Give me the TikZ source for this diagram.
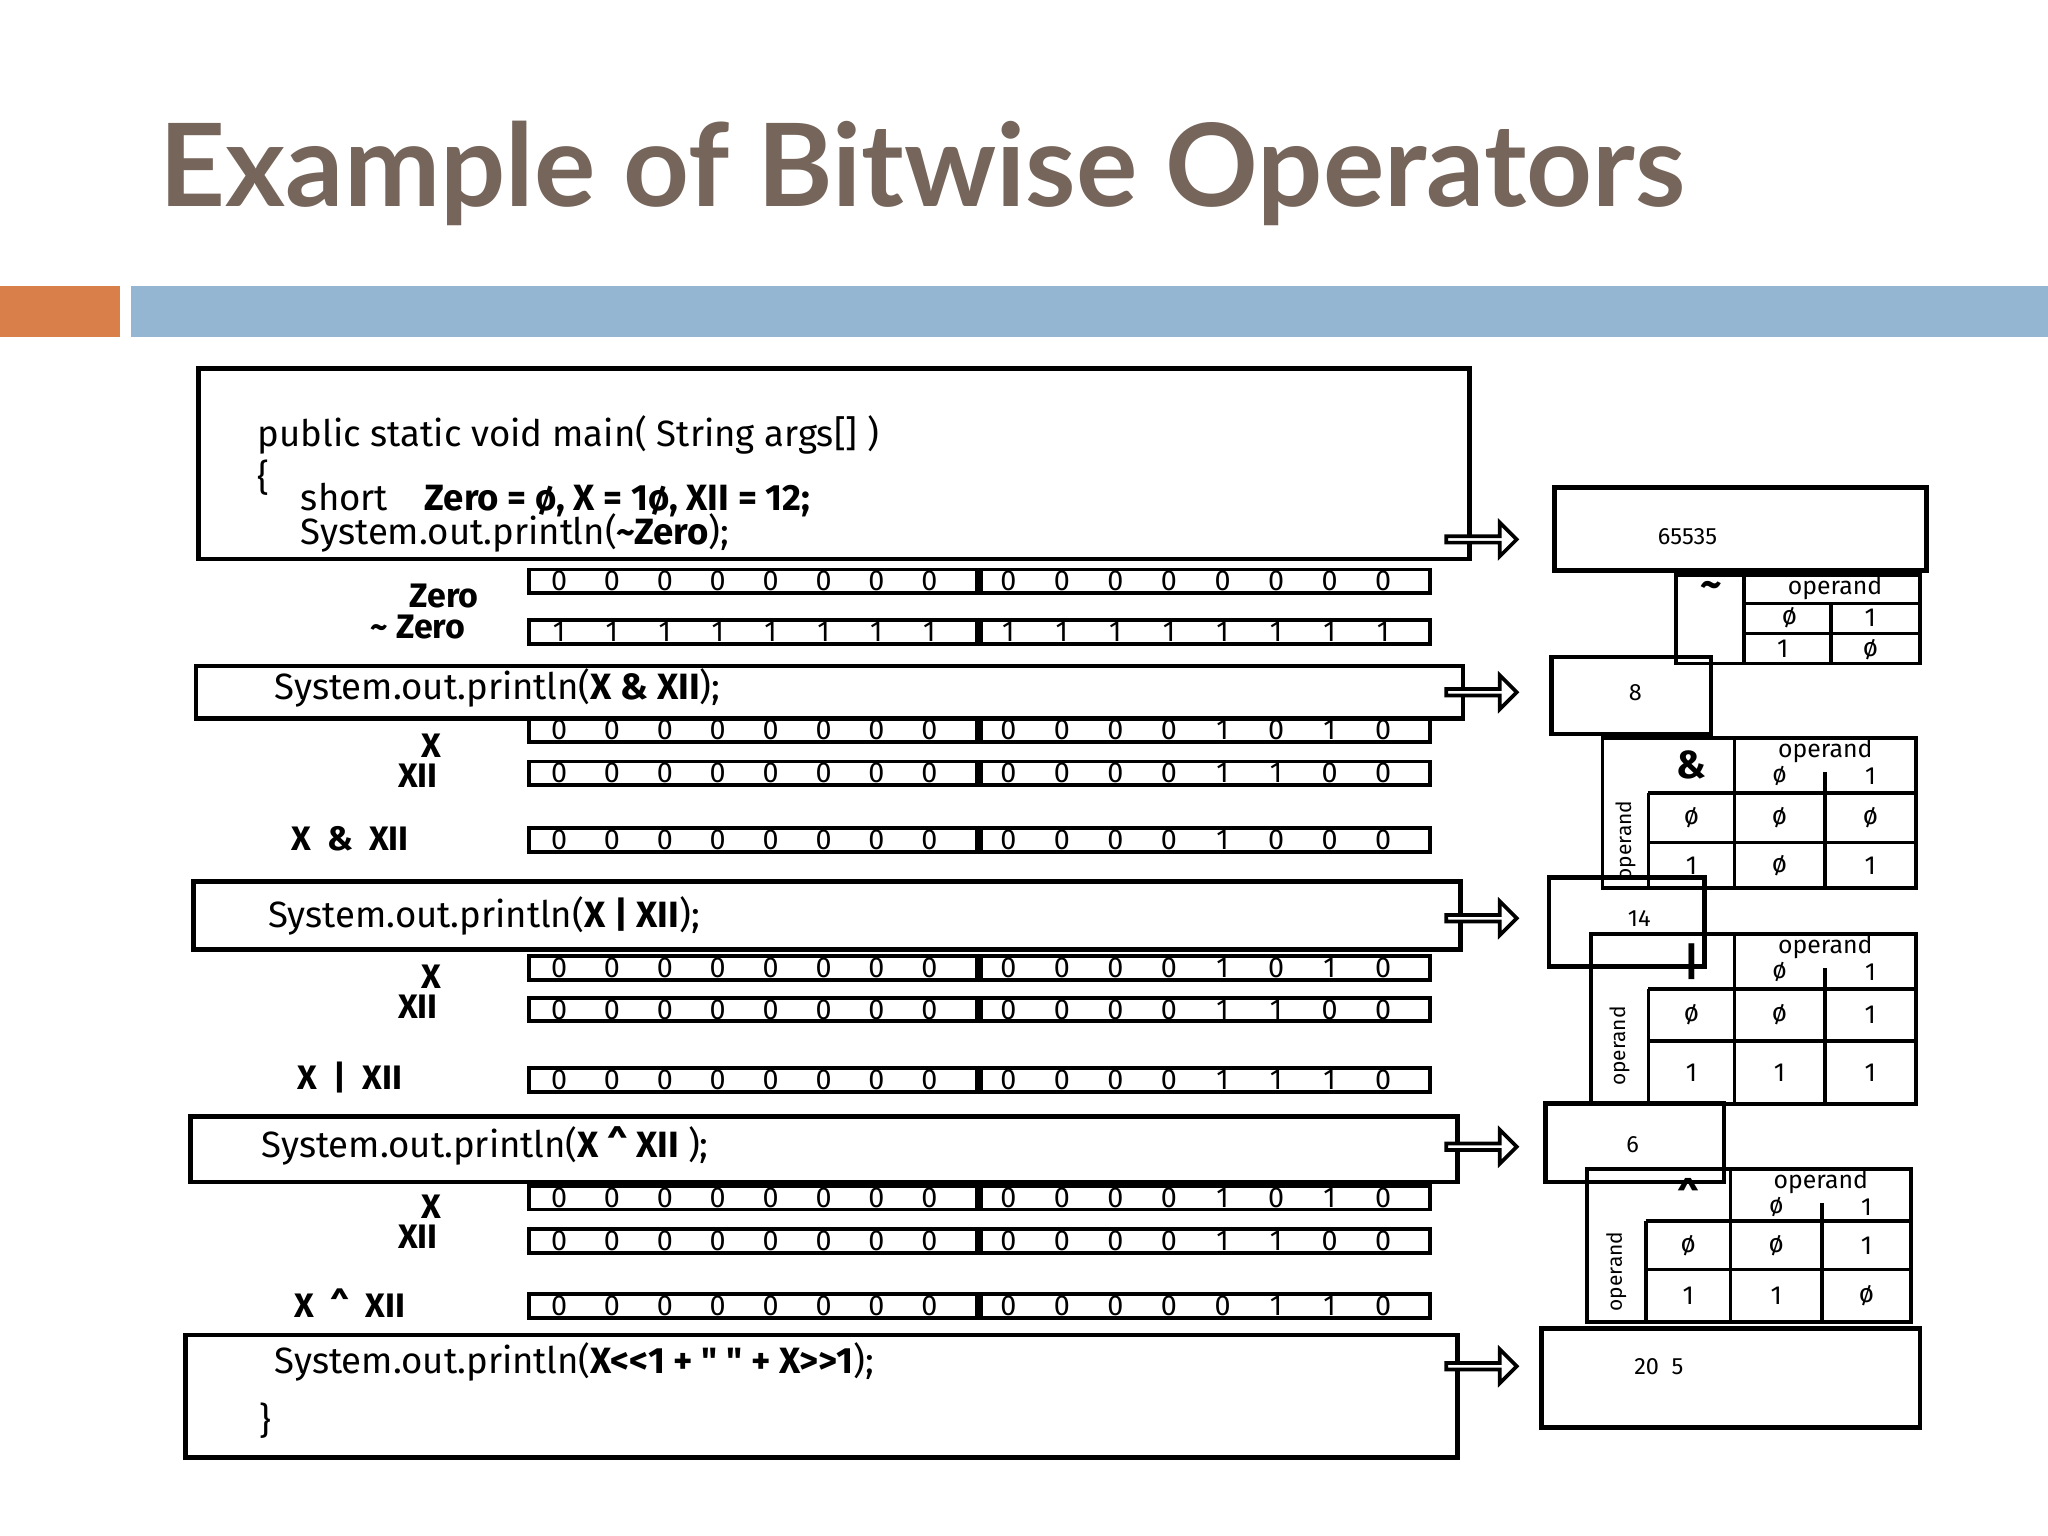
\documentclass[tikz,border=0pt]{standalone}
\usepackage{fontspec}
\setmainfont{Lato}
\newfontfamily\hand{Fira Sans}
\usetikzlibrary{shapes.arrows}
\definecolor{titlec}{HTML}{76655B}
\definecolor{orng}{HTML}{D9804A}
\definecolor{blu}{HTML}{94B6D2}
\tikzset{
 box/.style={draw,line width=1.8pt},
 code/.style={anchor=west,font=\hand\fontsize{14}{16}\selectfont,inner sep=0},
 lab/.style={font=\hand\bfseries\fontsize{13}{15}\selectfont,inner sep=0},
 bit/.style={font=\hand\fontsize{11}{12}\selectfont,inner sep=0},
 tt/.style={font=\hand\fontsize{10}{11}\selectfont,inner sep=0},
 hd/.style={font=\hand\fontsize{9.5}{10}\selectfont,inner sep=0},
 rot/.style={font=\hand\fontsize{8}{9}\selectfont,inner sep=0,rotate=90},
 res/.style={font=\hand\fontsize{9}{10}\selectfont,inner sep=0},
 fat/.style={single arrow,draw,line width=1.4pt,minimum height=27pt,minimum width=13pt,single arrow head extend=3pt,inner sep=0,fill=white},
 grid/.style={line width=1.4pt}
}
\newcommand\bitrow[3]{%
 \draw[box,line width=1.5pt] (405,#1-9) rectangle (748,#1+9);
 \draw[box,line width=1.5pt] (751,#1-9) rectangle (1095,#1+9);
 \foreach \b [count=\i] in {#2} \node[bit] at (428+\i*40.5-40.5,#1) {\b};
 \foreach \b [count=\i] in {#3} \node[bit] at (772+\i*41-41,#1) {\b};
}
\begin{document}
\begin{tikzpicture}[x=0.5pt,y=-0.5pt]
\useasboundingbox (0,0) rectangle (1568,1176);
\node[anchor=base west,inner sep=0,text=titlec,font=\bfseries\fontsize{44}{48}\selectfont] (title) at (122,158) {Example of Bitwise Operators};
\fill[orng] (0,219) rectangle (92,258);
\fill[blu] (100,219) rectangle (1568,258);
% code boxes
\draw[box] (152,282) rectangle (1125,428);
\node[code] (c1) at (197,333) {public static void main( String args[] )};
\node[code] at (197,366) {\{};
\node[code] at (230,383) {short\quad \textbf{Zero = ø, X = 1ø, XII = 12;}};
\node[code] at (230,408) {System.out.println(\textbf{\char`\~ Zero});};
\draw[box] (150,510) rectangle (1120,550);
\node[code] (c2) at (210,527) {System.out.println(\textbf{X \& XII});};
\draw[box] (148,675) rectangle (1118,727);
\node[code] (c3) at (205,701) {System.out.println(\textbf{X | XII});};
\draw[box] (146,855) rectangle (1116,905);
\node[code] (c4) at (200,877) {System.out.println(\textbf{X \^{} XII });};
\draw[box] (142,1022) rectangle (1116,1116);
\node[code] (c5) at (210,1043) {System.out.println(\textbf{X<<1 + " " + X>>1});};
\node[code] at (198,1088) {\}};
% arrows
\foreach \y/\n in {413/a1,530/a2,703/a3,878/a4,1046/a5}
  \node[fat] (\n) at (1133,\y) {};
% result boxes
\draw[box] (1190,373) rectangle (1475,437); \node[res] (r1) at (1292,411) {65535};
\draw[box] (1188,503) rectangle (1310,562); \node[res] (r2) at (1252,530) {8};
\draw[box] (1186,672) rectangle (1305,740); \node[res] (r3) at (1255,703) {14};
\draw[box] (1183,845) rectangle (1320,905); \node[res] (r4) at (1250,876) {6};
\draw[box] (1180,1017) rectangle (1470,1093); \node[res] (r5) at (1270,1046) {20\ \ 5};
% bit rows
\node[lab] at (340,456) {Zero}; \node[lab] at (320,480) {\char`\~\ Zero};
\bitrow{445}{0,0,0,0,0,0,0,0}{0,0,0,0,0,0,0,0}
\bitrow{484}{1,1,1,1,1,1,1,1}{1,1,1,1,1,1,1,1}
\node[lab] at (330,571) {X}; \node[lab] at (320,594) {XII}; \node[lab] at (268,642) {X\ \ \& \ XII};
\bitrow{559}{0,0,0,0,0,0,0,0}{0,0,0,0,1,0,1,0}
\bitrow{592}{0,0,0,0,0,0,0,0}{0,0,0,0,1,1,0,0}
\bitrow{643}{0,0,0,0,0,0,0,0}{0,0,0,0,1,0,0,0}
\node[lab] at (330,748) {X}; \node[lab] at (320,771) {XII}; \node[lab] at (268,825) {X\ \ |\ \ XII};
\bitrow{741}{0,0,0,0,0,0,0,0}{0,0,0,0,1,0,1,0}
\bitrow{773}{0,0,0,0,0,0,0,0}{0,0,0,0,1,1,0,0}
\bitrow{827}{0,0,0,0,0,0,0,0}{0,0,0,0,1,1,1,0}
\node[lab] at (330,924) {X}; \node[lab] at (320,947) {XII}; \node[lab] at (268,998) {X\ \ \^{}\ \ XII};
\bitrow{917}{0,0,0,0,0,0,0,0}{0,0,0,0,1,0,1,0}
\bitrow{950}{0,0,0,0,0,0,0,0}{0,0,0,0,1,1,0,0}
\bitrow{1000}{0,0,0,0,0,0,0,0}{0,0,0,0,0,1,1,0}
% truth table ~
\draw[grid] (1283,440) rectangle (1470,508);
\draw[grid] (1335,440) -- (1335,508) (1335,462) -- (1470,462) (1335,485) -- (1470,485) (1402,462) -- (1402,508);
\node[tt,font=\hand\bfseries\fontsize{16}{16}\selectfont] at (1310,452) {\char`\~};
\node[hd] at (1405,450) {operand};
\node[tt] at (1370,473) {ø}; \node[tt] at (1432,473) {1};
\node[tt] at (1365,497) {1}; \node[tt] at (1432,497) {ø};
% generic tables
\foreach \xl/\yt/\xr/\yb/\ca/\cb/\cc/\ha/\hb/\sym/\ra/\rb/\rc/\rd in {
 1227/565/1467/680/1262/1328/1397/607/645/\&/ø/ø/ø/1,
 1218/715/1467/845/1262/1328/1397/757/797/|/ø/1/1/1,
 1215/895/1463/1012/1260/1325/1395/935/972/\^{}/ø/1/1/ø}{
 \draw[grid] (\xl,\yt) rectangle (\xr,\yb);
 \draw[grid] (\ca,\ha) -- (\ca,\yb) (\cb,\yt) -- (\cb,\yb) (\ca,\ha) -- (\xr,\ha) (\ca,\hb) -- (\xr,\hb) (\cc,\yt+26) -- (\cc,\yb);
 \node[tt,font=\hand\bfseries\fontsize{15}{15}\selectfont] at ({(\ca+\cb)/2},{(\yt+\ha)/2}) {\sym};
 \node[hd] at ({(\cb+\xr)/2},\yt+10) {operand};
 \node[hd] at ({(\cb+\cc)/2},\yt+29) {ø}; \node[hd] at ({(\cc+\xr)/2},\yt+29) {1};
 \node[tt] at ({(\ca+\cb)/2},{(\ha+\hb)/2}) {ø}; \node[tt] at ({(\ca+\cb)/2},{(\hb+\yb)/2}) {1};
 \node[tt] at ({(\cb+\cc)/2},{(\ha+\hb)/2}) {\ra}; \node[tt] at ({(\cc+\xr)/2},{(\ha+\hb)/2}) {\rb};
 \node[tt] at ({(\cb+\cc)/2},{(\hb+\yb)/2}) {\rc}; \node[tt] at ({(\cc+\xr)/2},{(\hb+\yb)/2}) {\rd};
 \node[rot] at ({(\xl+\ca)/2},{(\ha+\yb)/2}) {operand};
}
\end{tikzpicture}
\end{document}
